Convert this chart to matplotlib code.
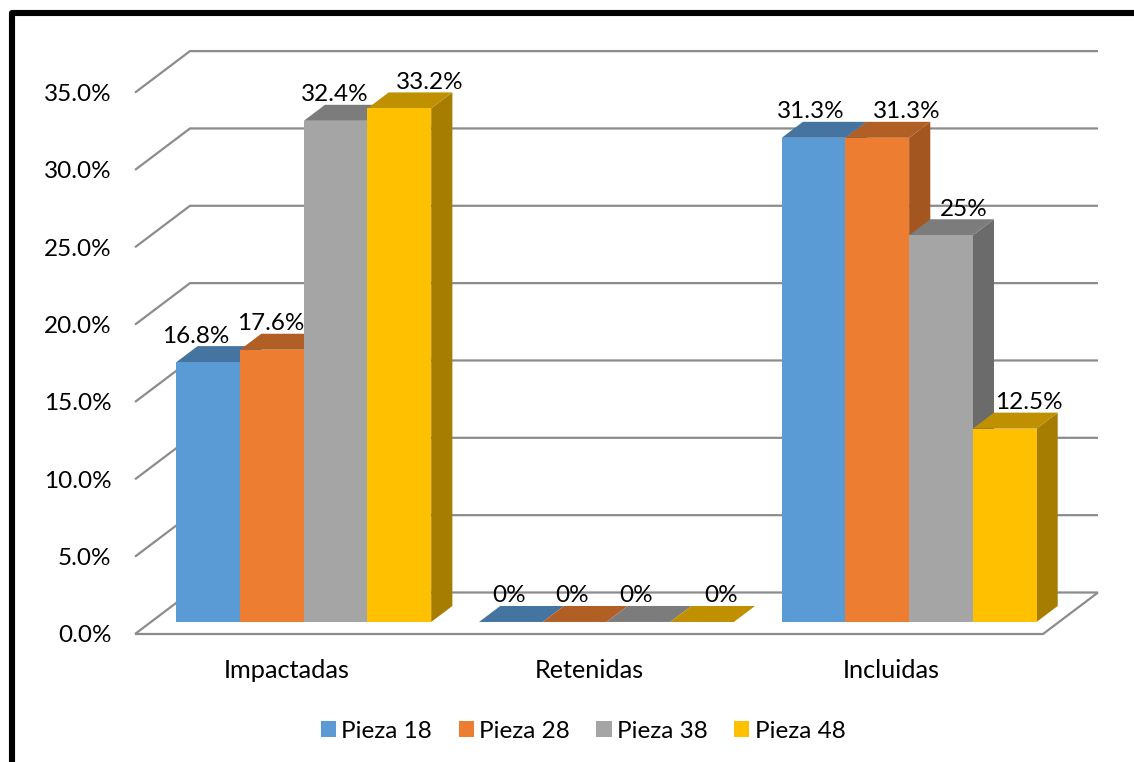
import matplotlib
matplotlib.use("Agg")
import matplotlib.pyplot as plt
from matplotlib.lines import Line2D
from matplotlib.patches import Patch, Polygon
from matplotlib.transforms import IdentityTransform

plt.rcParams['font.family'] = ['Lato', 'DejaVu Sans']

W, H = 1134, 762

categories = ['Impactadas', 'Retenidas', 'Incluidas']
series_names = ['Pieza 18', 'Pieza 28', 'Pieza 38', 'Pieza 48']
pieza_18 = [16.8, 0, 31.3]
pieza_28 = [17.6, 0, 31.3]
pieza_38 = [32.4, 0, 25]
pieza_48 = [33.2, 0, 12.5]
label_texts = [['16.8%', '0%', '31.3%'],
	['17.6%', '0%', '31.3%'],
	['32.4%', '0%', '25%'],
	['33.2%', '0%', '12.5%']]
y_ticks = [0, 5, 10, 15, 20, 25, 30, 35]

front_colors = ['#5B9BD5', '#ED7D31', '#A5A5A5', '#FFC000']
top_colors = ['#44749F', '#B25F25', '#7C7C7C', '#BF9000']
side_colors = ['#3D6A92', '#A3561F', '#6B6B6B', '#A67D00']
grid_color = '#8C8C8C'

# horizontal label shift in pixels, per series and category
label_shift = [[-13, -2, -3], [-1, -3, 29], [-1, -2, 23], [30, 19, 24]]

# plot box in pixels, y counted from the top
left, right, y0_px, y35_px = 135, 1043, 634, 92.6
depth_dx, depth_dy = 55, -41.5
bar_d0, bar_d1 = 0.29, 0.675
bar_w = 63.7 / (right - left) * 3
font_size = 17.5
cat_font_size = 18.2

# oblique projection: depth 0 is the front plane, depth 1 the back wall
def project(x, y, d):
	ux = (right - left) / 3
	uy = (y0_px - y35_px) / 35
	return x + d * depth_dx / ux, y - d * depth_dy / uy

def draw_grid(ax):
	for t in y_ticks:
		pts = [project(0, t, 0), project(0, t, 1), project(3, t, 1)]
		ax.plot(*zip(*pts), color=grid_color, lw=1.6, clip_on=False, zorder=1,
			solid_joinstyle='miter', solid_capstyle='butt')
	floor = [project(0, 0, 0), project(3, 0, 0), project(3, 0, 1)]
	ax.plot(*zip(*floor), color=grid_color, lw=1.6, clip_on=False, zorder=1,
		solid_joinstyle='miter', solid_capstyle='butt')

# one box: side and top faces first, then the front face
def draw_bar(ax, x, val, idx):
	x1 = x + bar_w
	side = [project(x1, 0, bar_d0), project(x1, 0, bar_d1), project(x1, val, bar_d1), project(x1, val, bar_d0)]
	top = [project(x, val, bar_d0), project(x1, val, bar_d0), project(x1, val, bar_d1), project(x, val, bar_d1)]
	front = [project(x, 0, bar_d0), project(x1, 0, bar_d0), project(x1, val, bar_d0), project(x, val, bar_d0)]
	ax.add_patch(Polygon(side, closed=True, fc=side_colors[idx], ec='none', clip_on=False, zorder=2))
	ax.add_patch(Polygon(top, closed=True, fc=top_colors[idx], ec='none', clip_on=False, zorder=2))
	ax.add_patch(Polygon(front, closed=True, fc=front_colors[idx], ec='none', clip_on=False, zorder=2))

def main():
	fig = plt.figure(figsize=(W / 100, H / 100), dpi=100, facecolor='white')
	ax = fig.add_axes([left / W, 1 - y0_px / H, (right - left) / W, (y0_px - y35_px) / H])
	ax.set_xlim(0, 3)
	ax.set_ylim(0, 35)
	ax.patch.set_visible(False)
	for s in ax.spines.values():
		s.set_visible(False)

	ax.set_yticks(y_ticks)
	ax.set_yticklabels([f'{t:.1f}%' for t in y_ticks], fontsize=font_size, color='black')
	ax.set_xticks([0.5, 1.5, 2.5])
	ax.set_xticklabels(categories, fontsize=cat_font_size, color='black')
	ax.tick_params(axis='y', length=0, pad=17)
	ax.tick_params(axis='x', length=0, pad=18)

	draw_grid(ax)

	all_series = [pieza_18, pieza_28, pieza_38, pieza_48]
	for c in range(len(categories)):
		start = c + 0.5 + 0.005 - 2 * bar_w
		for s, values in enumerate(all_series):
			x = start + s * bar_w
			draw_bar(ax, x, values[c], s)
			ax.annotate(label_texts[s][c], project(x + bar_w / 2, values[c], bar_d0),
				xytext=(label_shift[s][c], 26), textcoords='offset pixels',
				ha='center', va='center', fontsize=font_size, color='black',
				annotation_clip=False, zorder=5)

	handles = [Patch(fc=col, ec='none', label=name) for col, name in zip(front_colors, series_names)]
	fig.legend(handles=handles, loc='center', bbox_to_anchor=(583 / W, 1 - 731 / H), ncol=4,
		frameon=False, fontsize=font_size, handlelength=0.62, handleheight=0.62,
		handletextpad=0.21, columnspacing=1.11, borderpad=0)

	# thick black frame on the top and left sides
	frame = Line2D([12, 12, W], [0, H - 13, H - 13], color='black', lw=4.4,
		transform=IdentityTransform(), solid_joinstyle='round', solid_capstyle='butt')
	fig.add_artist(frame)

	fig.savefig('out.png', dpi=100)

if __name__ == "__main__":
	main()
